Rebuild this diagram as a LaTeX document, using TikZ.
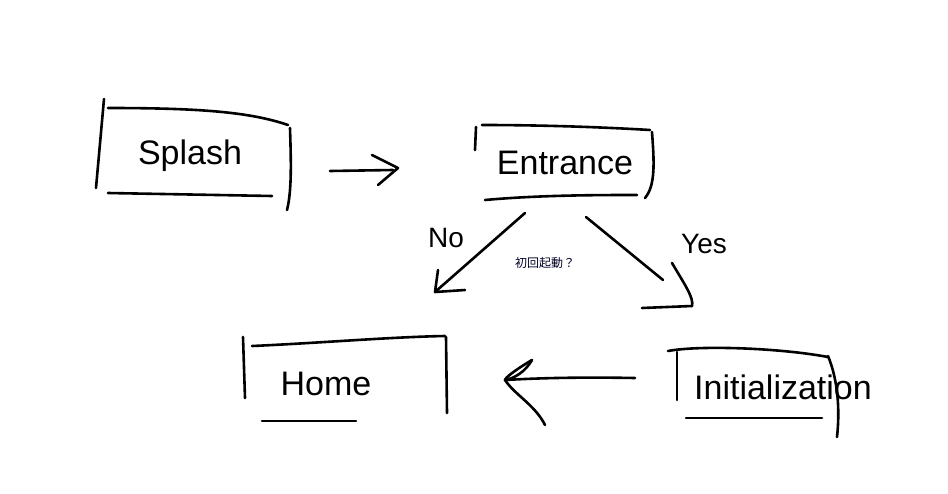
\documentclass[tikz,border=0pt]{standalone}
\usepackage{fontspec}
\setmainfont{Liberation Sans}
\newfontfamily\cjkfont{Noto Sans CJK JP}
\begin{document}
\begin{tikzpicture}[x=1pt,y=-1pt,
  hand/.style={line width=2.6pt,line cap=round,line join=round,black},
  boxlabel/.style={font=\fontsize{34}{36}\selectfont,inner sep=0pt},
  edgelabel/.style={font=\fontsize{28}{30}\selectfont,inner sep=0pt},
  question/.style={font=\cjkfont\fontsize{12}{14}\selectfont,text=black!85!blue,inner sep=0pt}]
\useasboundingbox (0,0) rectangle (948,493);
% ---- nodes (texts) ----
\node[boxlabel] (splash) at (190,156) {Splash};
\node[boxlabel] (entrance) at (565,163) {Entrance};
\node[boxlabel] (home) at (326,384) {Home};
\node[boxlabel] (init) at (783,387) {Initialization};
\node[edgelabel] (no) at (446,238) {No};
\node[edgelabel] (yes) at (704,244) {Yes};
\node[question] (q) at (545,263) {初回起動？};
% ---- hand drawn boxes ----
% Splash
\draw[hand] (104,99) -- (96,188);
\draw[hand] (108,108) .. controls (200,108) and (250,112) .. (288,125);
\draw[hand] (290,128) .. controls (291,160) and (292,190) .. (287,210);
\draw[hand] (108,193) -- (272,196);
% Entrance
\draw[hand] (476,127) -- (475,150);
\draw[hand] (482,125) .. controls (540,125) and (600,127) .. (650,130);
\draw[hand] (652,132) .. controls (654,160) and (656,185) .. (645,198);
\draw[hand] (485,200) .. controls (540,195) and (600,195) .. (637,195);
% Home
\draw[hand] (243,337) -- (245,398);
\draw[hand] (252,346) .. controls (320,343) and (390,337) .. (445,336);
\draw[hand] (446,337) -- (447,413);
\draw[hand] (262,421) -- (356,421);
% Initialization
\draw[hand] (677,352) -- (677,400);
\draw[hand] (668,351) .. controls (700,345) and (780,348) .. (828,357);
\draw[hand] (828,356) .. controls (838,380) and (840,410) .. (837,437);
\draw[hand] (686,418) -- (822,418);
% ---- connector end points ----
\coordinate (s1) at (330,171);
\coordinate (e0) at (398,168);
\coordinate (n1) at (525,213);
\coordinate (h0) at (435,292);
\coordinate (y1) at (586,217);
\coordinate (i0) at (692,306);
\coordinate (i1) at (635,378);
\coordinate (h1) at (505,380);
% Splash -> Entrance
\draw[hand] (s1) -- (393,170);
\draw[hand] (372,155) -- (e0) -- (378,185);
% Entrance -> Home (No)
\draw[hand] (n1) -- (h0);
\draw[hand] (438,270) -- (h0) -- (465,290);
% Entrance -> Initialization (Yes)
\draw[hand] (y1) -- (663,280);
\draw[hand] (672,263) .. controls (685,285) and (694,298) .. (i0);
\draw[hand] (642,308) -- (i0);
% Initialization -> Home
\draw[hand] (i1) .. controls (580,377) and (540,378) .. (h1);
\draw[hand] (532,360) .. controls (515,370) and (505,378) .. (h1) .. controls (515,395) and (535,405) .. (545,425);
\draw[hand] (532,360) .. controls (525,372) and (515,378) .. (h1);
\end{tikzpicture}
\end{document}
